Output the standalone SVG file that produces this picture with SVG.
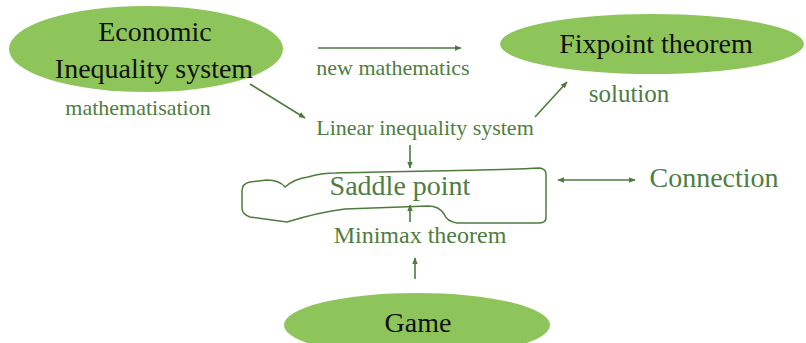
<svg xmlns="http://www.w3.org/2000/svg" width="806" height="343" viewBox="0 0 806 343">
  <defs>
    <marker id="head" viewBox="0 0 10 10" refX="9" refY="5" markerWidth="7" markerHeight="7" orient="auto-start-reverse" markerUnits="userSpaceOnUse">
      <path d="M0,1 L10,5 L0,9 Z" fill="#4d7b3e"/>
    </marker>
    <style>
      .blob { fill: #8dc55a; }
      .title { font-family: "Liberation Serif", "Times New Roman", serif; font-size: 28px; fill: #111; text-anchor: middle; }
      .label { font-family: "Liberation Serif", "Times New Roman", serif; font-size: 22px; fill: #4e7d40; text-anchor: middle; }
      .link { stroke: #4d7b3e; stroke-width: 1.6; fill: none; marker-end: url(#head); }
    </style>
  </defs>
  <rect width="806" height="343" fill="#fff"/>

  <g id="economic">
    <ellipse class="blob" cx="146" cy="49" rx="137" ry="43"/>
    <text class="title" x="155" y="41">Economic</text>
    <text class="title" x="154" y="78">Inequality system</text>
  </g>

  <g id="fixpoint">
    <ellipse class="blob" cx="652" cy="44" rx="152" ry="30"/>
    <text class="title" x="656" y="53">Fixpoint theorem</text>
  </g>

  <g id="game">
    <ellipse class="blob" cx="417" cy="325" rx="133" ry="32"/>
    <text class="title" x="418" y="332">Game</text>
  </g>

  <g id="linear">
    <text class="label" x="425" y="135">Linear inequality system</text>
  </g>

  <g id="saddle">
    <path d="M285,187 C292,181 300,178 308,177 C318,174 325,173 335,173 C400,171 480,171 540,168 C545,169 546,171 546,174 L546,218 C546,221 543,223 538,223 L457,223 C450,222 446,219 444,214 C441,209 436,206 428,206 L345,209 C320,212 300,218 287,222 L250,217 C244,215 242,212 242,208 L242,191 C242,186 245,183 250,182 L267,180 C275,180 281,182 285,187 Z" fill="none" stroke="#4d7b3e" stroke-width="1.5"/>
    <text class="title" x="400" y="195" style="fill:#4e7d40">Saddle point</text>
  </g>

  <g id="minimax">
    <text class="label" x="420" y="243" style="font-size:24px">Minimax theorem</text>
  </g>

  <g id="connection">
    <text class="title" x="714" y="187" style="fill:#4e7d40;font-size:28px">Connection</text>
  </g>

  <g id="notes">
    <text class="label" x="138" y="115">mathematisation</text>
    <text class="label" x="393" y="75">new mathematics</text>
    <text class="label" x="629" y="102" style="font-size:25px">solution</text>
  </g>

  <g id="connectors">
    <line class="link" x1="318" y1="48" x2="461" y2="48"/>
    <line class="link" x1="250" y1="84" x2="305" y2="118"/>
    <line class="link" x1="535" y1="117" x2="567" y2="82"/>
    <line class="link" x1="410" y1="145" x2="410" y2="168"/>
    <line class="link" x1="410" y1="222" x2="410" y2="205"/>
    <line class="link" x1="415" y1="279" x2="415" y2="258"/>
    <line class="link" x1="558" y1="180" x2="635" y2="180" marker-start="url(#head)"/>
  </g>
</svg>
